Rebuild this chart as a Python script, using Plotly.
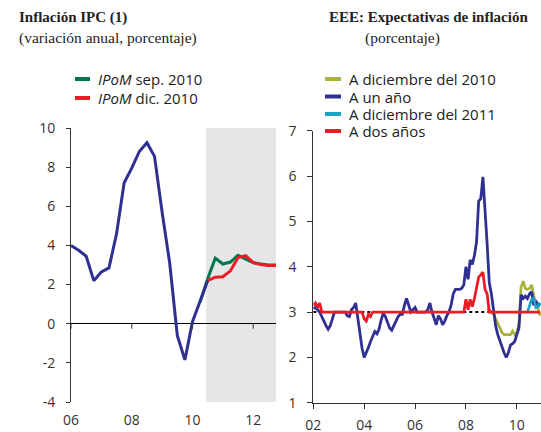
import plotly.graph_objects as go

# ---------------- Left chart data (quarterly) ----------------
ipc_x = [2006.0, 2006.25, 2006.5, 2006.75, 2007.0, 2007.25, 2007.5, 2007.75,
         2008.0, 2008.25, 2008.5, 2008.75, 2009.0, 2009.25, 2009.5, 2009.75,
         2010.0, 2010.25, 2010.5]
ipc_y = [4.0, 3.75, 3.45, 2.2, 2.65, 2.85, 4.6, 7.2,
         7.95, 8.8, 9.25, 8.55, 5.7, 3.1, -0.6, -1.85,
         0.1, 1.1, 2.2]

sep_x = [2010.25, 2010.5, 2010.75, 2011.0, 2011.25, 2011.5, 2011.75, 2012.0,
         2012.25, 2012.5, 2012.75]
sep_y = [1.1, 2.3, 3.35, 3.05, 3.15, 3.5, 3.3, 3.12, 3.05, 3.0, 3.0]

dic_x = [2010.5, 2010.75, 2011.0, 2011.25, 2011.5, 2011.75, 2012.0, 2012.25,
         2012.5, 2012.75]
dic_y = [2.2, 2.38, 2.4, 2.7, 3.38, 3.48, 3.12, 3.02, 2.98, 2.98]

proj_start, proj_end = 2010.45, 2012.75
left_ticks = [2006, 2008, 2010, 2012]
left_ticktext = ["06", "08", "10", "12"]
left_yticks = [-4, -2, 0, 2, 4, 6, 8, 10]
left_yticktext = ["-4", "-2", "0", "2", "4", "6", "8", "10"]

# ---------------- Right chart data (monthly, Jan-2002 .. Dec-2010) ----------------
un_anio = [
    3.08, 3.1, 3.05, 3.0, 2.9, 2.78, 2.7, 2.62, 2.7, 2.85, 3.0, 3.0,      # 2002
    3.0, 3.0, 3.0, 3.0, 2.92, 2.9, 3.05, 3.1, 3.2, 2.85, 2.5, 2.2,        # 2003
    2.0, 2.1, 2.22, 2.35, 2.45, 2.57, 2.52, 2.62, 2.82, 2.97, 2.9, 2.75,  # 2004
    2.65, 2.6, 2.7, 2.82, 2.9, 2.95, 2.95, 3.15, 3.3, 3.15, 3.0, 3.05,    # 2005
    3.1, 3.0, 3.0, 3.0, 3.0, 3.0, 3.05, 3.2, 3.0, 2.85, 2.72, 2.92,       # 2006
    2.85, 2.72, 2.8, 2.92, 3.0, 3.15, 3.4, 3.5, 3.5, 3.5, 3.52, 3.6,      # 2007
    4.0, 3.72, 4.15, 4.05, 4.25, 4.55, 5.45, 5.5, 5.98, 5.3, 4.5, 3.65,   # 2008
    3.4, 3.05, 2.7, 2.5, 2.35, 2.2, 2.1, 2.0, 2.1, 2.27, 2.3, 2.35,       # 2009
    2.5, 2.65, 3.38, 3.3, 3.35, 3.3, 3.4, 3.45, 3.15, 3.25, 3.12, 3.2,    # 2010
]
dos_anios = [
    3.15, 3.2, 3.1, 3.2, 3.0, 3.0, 3.0, 3.0, 3.0, 3.0, 3.0, 3.0,          # 2002
    3.0, 3.0, 3.0, 3.0, 3.0, 3.0, 3.0, 3.0, 3.0, 3.0, 3.0, 3.0,           # 2003
    2.85, 2.8, 2.95, 2.9, 3.0, 3.0, 3.0, 3.0, 3.0, 3.0, 3.0, 3.0,         # 2004
    3.0, 3.0, 3.0, 3.0, 3.0, 3.0, 3.0, 3.0, 3.0, 3.0, 3.0, 3.0,           # 2005
    3.0, 3.0, 3.0, 3.0, 3.0, 3.0, 3.0, 3.0, 3.0, 3.0, 3.0, 3.0,           # 2006
    3.0, 3.0, 3.0, 3.0, 3.0, 3.0, 3.0, 3.0, 3.0, 3.0, 3.0, 3.0,           # 2007
    3.28, 3.05, 3.28, 3.12, 3.3, 3.55, 3.77, 3.82, 3.88, 3.5, 3.4, 3.0,   # 2008
    3.0, 3.0, 3.0, 3.0, 3.0, 3.0, 3.0, 3.0, 3.0, 3.0, 3.0, 3.0,           # 2009
    3.0, 3.0, 3.0, 3.0, 3.0, 3.0, 3.0, 3.0, 3.0, 3.0, 3.0, 3.0,           # 2010
]
# A diciembre del 2010: Nov-2008 .. Dec-2010
dic2010_start = 2008 + 10 / 12
dic2010 = [3.08, 3.05,
           3.0, 2.95, 2.85, 2.75, 2.65, 2.55, 2.5, 2.5, 2.5, 2.5, 2.58, 2.5,
           2.55, 2.75, 3.55, 3.68, 3.52, 3.5, 3.52, 3.6, 3.35, 3.2, 3.1, 2.92]
# A diciembre del 2011: Jun-2010 .. Dec-2010
dic2011_start = 2010 + 5 / 12
dic2011 = [3.0, 3.15, 3.28, 3.3, 3.1, 3.12, 3.2]

meta = 3.0
right_ticks = [2002, 2004, 2006, 2008, 2010]
right_ticktext = ["02", "04", "06", "08", "10"]

months = [2002 + i / 12 for i in range(len(un_anio))]
dic2010_x = [dic2010_start + i / 12 for i in range(len(dic2010))]
dic2011_x = [dic2011_start + i / 12 for i in range(len(dic2011))]

# ---------------- colours ----------------
BLUE = "#2e3192"
GREEN = "#00774a"
RED = "#ed1c24"
OLIVE = "#a9b23b"
CYAN = "#1ba3c6"
AX = "#333333"

W, H = 541, 432
def px(x):
    return x / W
def py(y):
    return 1 - y / H

fig = go.Figure()

# Left chart traces
fig.add_trace(go.Scatter(x=sep_x, y=sep_y, mode="lines", line=dict(color=GREEN, width=3),
                         xaxis="x", yaxis="y", showlegend=False, name="IPoM sep. 2010"))
fig.add_trace(go.Scatter(x=dic_x, y=dic_y, mode="lines", line=dict(color=RED, width=3),
                         xaxis="x", yaxis="y", showlegend=False, name="IPoM dic. 2010"))
fig.add_trace(go.Scatter(x=ipc_x, y=ipc_y, mode="lines", line=dict(color=BLUE, width=3),
                         xaxis="x", yaxis="y", showlegend=False, name="IPC"))

# Right chart traces
fig.add_trace(go.Scatter(x=[months[0], months[-1]], y=[meta, meta], mode="lines",
                         line=dict(color="black", width=2, dash="dot"),
                         xaxis="x2", yaxis="y2", showlegend=False, name="Meta"))
fig.add_trace(go.Scatter(x=dic2010_x, y=dic2010, mode="lines", line=dict(color=OLIVE, width=2.7),
                         xaxis="x2", yaxis="y2", showlegend=False, name="A diciembre del 2010"))
fig.add_trace(go.Scatter(x=months, y=un_anio, mode="lines", line=dict(color=BLUE, width=2.8),
                         xaxis="x2", yaxis="y2", showlegend=False, name="A un año"))
fig.add_trace(go.Scatter(x=dic2011_x, y=dic2011, mode="lines", line=dict(color=CYAN, width=2.7),
                         xaxis="x2", yaxis="y2", showlegend=False, name="A diciembre del 2011"))
fig.add_trace(go.Scatter(x=months, y=dos_anios, mode="lines", line=dict(color=RED, width=2.8),
                         xaxis="x2", yaxis="y2", showlegend=False, name="A dos años"))

shapes = []
# projection shading
shapes.append(dict(type="rect", xref="x", yref="y domain", x0=proj_start, x1=proj_end,
                   y0=0, y1=1, fillcolor="#e5e6e8", line=dict(width=0), layer="below"))
# tick marks on the zero line (left chart)
for t in left_ticks:
    shapes.append(dict(type="line", xref="x", yref="y", ysizemode="pixel", yanchor=0,
                       x0=t, x1=t, y0=0, y1=-5, line=dict(color=AX, width=1)))

# manual legends
sans = "Open Sans, Noto Sans, sans-serif"
serif = "Liberation Serif, DejaVu Serif, serif"
annotations = []
left_leg = [(GREEN, "<i>IPoM</i> sep. 2010", 79), (RED, "<i>IPoM</i> dic. 2010", 98)]
for col, txt, yy in left_leg:
    shapes.append(dict(type="line", xref="paper", yref="paper", x0=px(75), x1=px(90),
                       y0=py(yy), y1=py(yy), line=dict(color=col, width=4)))
    annotations.append(dict(xref="paper", yref="paper", x=px(96), y=py(yy), text=txt,
                            showarrow=False, xanchor="left", yanchor="middle",
                            font=dict(family=sans, size=15, color="#222")))
right_leg = [(OLIVE, "A diciembre del 2010", 79), (BLUE, "A un año", 96.5),
             (CYAN, "A diciembre del 2011", 114), (RED, "A dos años", 131)]
for col, txt, yy in right_leg:
    shapes.append(dict(type="line", xref="paper", yref="paper", x0=px(325), x1=px(341),
                       y0=py(yy), y1=py(yy), line=dict(color=col, width=4)))
    annotations.append(dict(xref="paper", yref="paper", x=px(347), y=py(yy), text=txt,
                            showarrow=False, xanchor="left", yanchor="middle",
                            font=dict(family=sans, size=15, color="#222")))

# titles
annotations += [
    dict(xref="paper", yref="paper", x=px(17), y=py(17), text="<b>Inflación IPC (1)</b>",
         showarrow=False, xanchor="left", yanchor="middle",
         font=dict(family=serif, size=15, color="#222")),
    dict(xref="paper", yref="paper", x=px(17), y=py(38), text="(variación anual, porcentaje)",
         showarrow=False, xanchor="left", yanchor="middle",
         font=dict(family=serif, size=15.5, color="#222")),
    dict(xref="paper", yref="paper", x=px(327), y=py(17), text="<b>EEE: Expectativas de inflación</b>",
         showarrow=False, xanchor="left", yanchor="middle",
         font=dict(family=serif, size=15, color="#222")),
    dict(xref="paper", yref="paper", x=px(363), y=py(38), text="(porcentaje)",
         showarrow=False, xanchor="left", yanchor="middle",
         font=dict(family=serif, size=15.5, color="#222")),
]

tickfont = dict(family=sans, size=14, color="#333")

fig.update_layout(
    width=W, height=H,
    margin=dict(l=0, r=0, t=0, b=0, autoexpand=False),
    paper_bgcolor="white", plot_bgcolor="white",
    shapes=shapes, annotations=annotations,
    xaxis=dict(domain=[px(71), px(276)], range=[2006, proj_end], anchor="y",
               tickvals=left_ticks, ticktext=left_ticktext, showline=False, ticks="",
               showgrid=False, zeroline=False, tickfont=tickfont, ticklabelstandoff=8,
               automargin=False),
    yaxis=dict(domain=[py(402), py(128)], range=[-4, 10], anchor="x",
               tickvals=left_yticks, ticktext=left_yticktext,
               showline=True, linecolor=AX, linewidth=1, ticks="outside", ticklen=4,
               tickcolor=AX, showgrid=False, zeroline=True, zerolinecolor="black",
               zerolinewidth=1, tickfont=tickfont, ticklabelstandoff=8, automargin=False),
    xaxis2=dict(domain=[px(313.3), 1.0], range=[2002, 2010.95], anchor="y2",
                tickvals=right_ticks, ticktext=right_ticktext, showline=True, linecolor=AX,
                linewidth=1, ticks="outside", ticklen=5, tickcolor=AX, showgrid=False,
                zeroline=False, tickfont=tickfont, ticklabelstandoff=4, automargin=False),
    yaxis2=dict(domain=[py(402.7), py(130.7)], range=[1, 7], anchor="x2", dtick=1,
                showline=True, linecolor=AX, linewidth=1, ticks="outside", ticklen=5,
                tickcolor=AX, showgrid=False, zeroline=False, tickfont=tickfont,
                ticklabelstandoff=8, automargin=False),
)

fig.write_html("out.html", config={"displayModeBar": False},
               post_script="document.body.style.margin='0';document.body.style.overflow='hidden';")
